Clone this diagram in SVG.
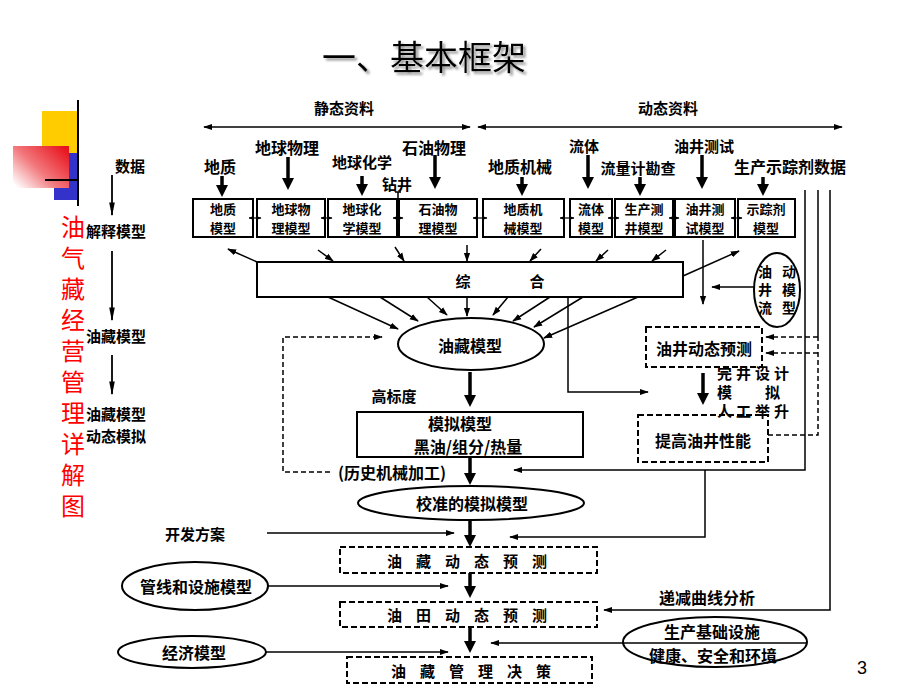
<svg xmlns="http://www.w3.org/2000/svg" width="920" height="690" viewBox="0 0 920 690">
<defs>
<linearGradient id="rg" x1="1" y1="0.1" x2="0" y2="0.9">
<stop offset="0" stop-color="#e8101a"/>
<stop offset="0.55" stop-color="#f2787c"/>
<stop offset="1" stop-color="#ffffff"/>
</linearGradient>
<filter id="sh" x="-10%" y="-20%" width="130%" height="150%"><feDropShadow dx="2.5" dy="2.5" stdDeviation="0.8" flood-color="#999"/></filter>
<marker id="big" viewBox="0 0 10 10" refX="6.7" refY="5" markerWidth="12" markerHeight="12" markerUnits="userSpaceOnUse" orient="auto"><path d="M0,0 L10,5 L0,10 z" fill="#000"/></marker>
<marker id="a" viewBox="0 0 10 10" refX="9" refY="5" markerWidth="9" markerHeight="9" markerUnits="userSpaceOnUse" orient="auto-start-reverse"><path d="M0,1.5 L10,5 L0,8.5 z" fill="#000"/></marker>
<marker id="sm" viewBox="0 0 10 10" refX="9" refY="5" markerWidth="5" markerHeight="5" markerUnits="userSpaceOnUse" orient="auto-start-reverse"><path d="M0,1 L10,5 L0,9 z" fill="#000"/></marker>
<marker id="n" viewBox="0 0 10 10" refX="9" refY="5" markerWidth="14" markerHeight="7" markerUnits="userSpaceOnUse" orient="auto" preserveAspectRatio="none"><path d="M0,1 L10,5 L0,9 z" fill="#000"/></marker>
<style>
.t{font-family:'Noto Sans CJK SC','Noto Sans CJK JP',sans-serif;text-anchor:middle;dominant-baseline:central;font-weight:bold;fill:#000;font-size:15px}
.s13{font-size:13px}
.s14{font-size:14px}
.s16{font-size:16px}
.st{text-anchor:start}
.vt{writing-mode:vertical-rl;text-anchor:start}
.ln{fill:none;stroke:#000;stroke-width:1.5}
.lna{fill:none;stroke:#000;stroke-width:1.5;marker-end:url(#a)}
.dl{fill:none;stroke:#000;stroke-width:1.5;stroke-dasharray:5 3}
.dla{fill:none;stroke:#000;stroke-width:1.5;stroke-dasharray:5 3;marker-end:url(#a)}
.ta{fill:none;stroke:#000;stroke-width:3.5;marker-end:url(#big)}
.na{fill:none;stroke:#000;stroke-width:1.8;marker-end:url(#n)}
.lk{fill:none;stroke:#000;stroke-width:1.2;marker-start:url(#sm);marker-end:url(#sm)}
.box{fill:#fff;stroke:#000;stroke-width:2}
.dbox{fill:#fff;stroke:#000;stroke-width:2;stroke-dasharray:6 3}
.el{fill:#fff;stroke:#000;stroke-width:2}
</style>
</defs>
<rect width="920" height="690" fill="#fff"/>

<g id="title">
<text x="424" y="55" font-family="'Noto Sans CJK SC',sans-serif" font-size="34" text-anchor="middle" dominant-baseline="central" fill="#000" filter="url(#sh)">一、基本框架</text>
</g>

<g id="decor">
<rect x="42" y="111" width="36" height="42" fill="#ffcc00"/>
<rect x="54" y="153" width="24" height="47" fill="#3333cc"/>
<rect x="13" y="146" width="56" height="42" fill="url(#rg)"/>
<line x1="78" y1="100" x2="78" y2="206" stroke="#000" stroke-width="2"/>
<line x1="45" y1="180" x2="78" y2="180" stroke="#000" stroke-width="2"/>
</g>

<g id="side-title">
<text x="73" y="215" font-family="'Noto Sans CJK SC',sans-serif" font-size="24" fill="#ff0000" writing-mode="vertical-rl" letter-spacing="7">油气藏经营管理详解图</text>
</g>

<g id="left-col">
<text class="t" x="130" y="165">数据</text>
<text class="t st" x="86" y="230">解释模型</text>
<text class="t st" x="86" y="335">油藏模型</text>
<text class="t st" x="86" y="413">油藏模型</text>
<text class="t st" x="86" y="435">动态模拟</text>
</g>

<g id="headers">
<text class="t" x="344" y="107">静态资料</text>
<text class="t" x="668" y="107">动态资料</text>
</g>

<g id="data-labels">
<text class="t s16" x="220" y="166">地质</text>
<text class="t s16" x="287" y="147">地球物理</text>
<text class="t" x="362" y="161">地球化学</text>
<text class="t" x="397" y="183">钻井</text>
<text class="t s16" x="434" y="147">石油物理</text>
<text class="t s16" x="520" y="166">地质机械</text>
<text class="t" x="584" y="145">流体</text>
<text class="t" x="638" y="167">流量计勘查</text>
<text class="t" x="704" y="145">油井测试</text>
<text class="t s16" x="790" y="166">生产示踪剂数据</text>
</g>

<g id="m-dizhi"><rect class="box" x="193" y="199" width="60" height="38"/><text class="t s13" x="223" y="208.5">地质</text><text class="t s13" x="223" y="227.5">模型</text></g>
<g id="m-diqiuwuli"><rect class="box" x="257" y="199" width="68" height="38"/><text class="t s13" x="291" y="208.5">地球物</text><text class="t s13" x="291" y="227.5">理模型</text></g>
<g id="m-diqiuhuaxue"><rect class="box" x="328" y="199" width="69" height="38"/><text class="t s13" x="362" y="208.5">地球化</text><text class="t s13" x="362" y="227.5">学模型</text></g>
<g id="m-shiyouwuli"><rect class="box" x="399" y="199" width="78" height="38"/><text class="t s13" x="438" y="208.5">石油物</text><text class="t s13" x="438" y="227.5">理模型</text></g>
<g id="m-dizhijixie"><rect class="box" x="483" y="199" width="81" height="38"/><text class="t s13" x="523" y="208.5">地质机</text><text class="t s13" x="523" y="227.5">械模型</text></g>
<g id="m-liuti"><rect class="box" x="570" y="199" width="42" height="38"/><text class="t s13" x="591" y="208.5">流体</text><text class="t s13" x="591" y="227.5">模型</text></g>
<g id="m-shengchan"><rect class="box" x="615" y="199" width="58" height="38"/><text class="t s13" x="644" y="208.5">生产测</text><text class="t s13" x="644" y="227.5">井模型</text></g>
<g id="m-youjing"><rect class="box" x="675" y="199" width="60" height="38"/><text class="t s13" x="705" y="208.5">油井测</text><text class="t s13" x="705" y="227.5">试模型</text></g>
<g id="m-shizong"><rect class="box" x="738" y="199" width="57" height="38"/><text class="t s13" x="766" y="208.5">示踪剂</text><text class="t s13" x="766" y="227.5">模型</text></g>

<g id="zonghe"><rect class="box" x="257" y="262" width="426" height="35"/><text class="t" x="463" y="280">综</text><text class="t" x="537" y="280">合</text></g>

<g id="youjingliudong">
<ellipse class="el" cx="777" cy="290" rx="23" ry="37" stroke-width="1.5"/>
<text class="t s14 vt" x="765" y="265" letter-spacing="4">油井流</text>
<text class="t s14 vt" x="789" y="265" letter-spacing="4">动模型</text>
</g>

<g id="youzangmoxing"><ellipse class="el" cx="471" cy="344" rx="73" ry="26"/><text class="t s16" x="470" y="345">油藏模型</text></g>

<g id="youjingdongtai"><rect class="dbox" x="646" y="327" width="116" height="40"/><text class="t s16" x="704" y="348">油井动态预测</text></g>

<g id="tigao"><rect class="dbox" x="638" y="415" width="130" height="47"/><text class="t s16" x="703" y="440">提高油井性能</text></g>

<g id="wanjing">
<text class="t st" font-size="12" letter-spacing="4" x="717" y="372">完井设计</text>
<text class="t st" font-size="12" x="717" y="391">模</text>
<text class="t st" font-size="12" x="765" y="391">拟</text>
<text class="t st" font-size="12" letter-spacing="4" x="717" y="410">人工举升</text>
</g>

<g id="gaobiaodu"><text class="t" x="394" y="395">高标度</text></g>

<g id="moni"><rect class="box" x="357" y="412" width="226" height="45"/><text class="t s16" x="460" y="423">模拟模型</text><text class="t s16" x="468" y="446">黑油/组分/热量</text></g>

<g id="lishi"><text class="t s16" x="392" y="472">(历史机械加工)</text></g>

<g id="jiaozhun"><ellipse class="el" cx="471" cy="503" rx="113" ry="17"/><text class="t s16" x="472" y="503">校准的模拟模型</text></g>

<g id="kaifa"><text class="t" x="195" y="533">开发方案</text></g>

<g id="yzdt"><rect class="dbox" x="340" y="547" width="257" height="26"/><text class="t" x="474" y="560" letter-spacing="14">油藏动态预测</text></g>

<g id="guanxian"><ellipse class="el" cx="195" cy="586" rx="73" ry="24"/><text class="t s16" x="196" y="586">管线和设施模型</text></g>

<g id="ytdt"><rect class="dbox" x="340" y="602" width="257" height="25"/><text class="t" x="474" y="614" letter-spacing="14">油田动态预测</text></g>

<g id="jingji"><ellipse class="el" cx="192" cy="652" rx="74" ry="16"/><text class="t s16" x="194" y="652">经济模型</text></g>

<g id="yzgl"><rect class="dbox" x="347" y="657" width="245" height="26"/><text class="t" x="478" y="670" letter-spacing="14">油藏管理决策</text></g>

<g id="dijian"><text class="t s16" x="707" y="597">递减曲线分析</text></g>

<g id="shengchanjichu"><ellipse class="el" cx="715" cy="642" rx="92" ry="25"/><text class="t s16" x="712" y="631">生产基础设施</text><text class="t s16" x="713" y="655">健康、安全和环境</text></g>

<g id="page"><text x="862" y="668" font-family="'Liberation Sans',sans-serif" font-size="18" text-anchor="middle" dominant-baseline="central">3</text></g>

<g id="connectors">
<line class="ln" x1="204" y1="127" x2="470" y2="127" marker-start="url(#a)" marker-end="url(#a)"/>
<line class="ln" x1="478" y1="127" x2="842" y2="127" marker-start="url(#a)" marker-end="url(#a)"/>
<line class="na" x1="112" y1="175" x2="112" y2="215"/>
<line class="na" x1="112" y1="251" x2="112" y2="320"/>
<line class="na" x1="112" y1="355" x2="112" y2="394"/>
<line class="ta" x1="222" y1="176" x2="222" y2="193"/>
<line class="ta" x1="288" y1="157" x2="288" y2="186"/>
<line class="ta" x1="362" y1="176" x2="362" y2="192"/>
<line class="ta" x1="435" y1="155" x2="435" y2="185"/>
<line class="ta" x1="522" y1="177" x2="522" y2="192"/>
<line class="ta" x1="588" y1="155" x2="588" y2="185"/>
<line class="ta" x1="640" y1="177" x2="640" y2="192"/>
<line class="ta" x1="702" y1="155" x2="702" y2="185"/>
<line class="ta" x1="763" y1="177" x2="763" y2="192"/>
<path class="ln" d="M395,192 H401 M398,192 V199"/>
<line class="lk" x1="249" y1="218" x2="261" y2="218"/>
<line class="lk" x1="321" y1="218" x2="332" y2="218"/>
<line class="lk" x1="393" y1="218" x2="403" y2="218"/>
<line class="lk" x1="473" y1="218" x2="487" y2="218"/>
<line class="lk" x1="560" y1="218" x2="574" y2="218"/>
<line class="lk" x1="608" y1="218" x2="619" y2="218"/>
<line class="lk" x1="669" y1="218" x2="679" y2="218"/>
<line class="lk" x1="731" y1="218" x2="742" y2="218"/>
<line class="lna" x1="257" y1="262" x2="228" y2="249"/>
<line class="lna" x1="318" y1="250" x2="333" y2="261"/>
<line class="lna" x1="395" y1="247" x2="404" y2="261"/>
<line class="lna" x1="467" y1="245" x2="467" y2="261"/>
<line class="lna" x1="541" y1="249" x2="530" y2="261"/>
<line class="lna" x1="608" y1="250" x2="596" y2="261"/>
<line class="lna" x1="666" y1="250" x2="652" y2="261"/>
<line class="lna" x1="683" y1="276" x2="739" y2="251"/>
<line class="lna" x1="703" y1="240" x2="703" y2="304"/>
<line class="lna" x1="754" y1="287" x2="712" y2="287"/>
<line class="lna" x1="328" y1="297" x2="398" y2="329"/>
<line class="lna" x1="380" y1="297" x2="418" y2="321"/>
<line class="lna" x1="427" y1="297" x2="447" y2="315"/>
<line class="lna" x1="467" y1="297" x2="467" y2="316"/>
<line class="lna" x1="508" y1="297" x2="493" y2="315"/>
<line class="lna" x1="550" y1="297" x2="513" y2="321"/>
<line class="lna" x1="583" y1="297" x2="534" y2="327"/>
<line class="lna" x1="638" y1="297" x2="544" y2="338"/>
<polyline class="lna" stroke-width="2" points="568,297 568,392 648,392"/>
<polyline class="dla" points="330,472 283,472 283,337 382,337"/>
<line class="ta" x1="470" y1="372" x2="470" y2="403"/>
<line class="ta" x1="470" y1="457" x2="470" y2="481"/>
<line class="ta" x1="470" y1="520" x2="470" y2="543"/>
<line class="ta" x1="470" y1="573" x2="470" y2="594"/>
<line class="ta" x1="470" y1="627" x2="470" y2="649"/>
<line class="ta" x1="703" y1="373" x2="703" y2="401"/>
<line class="lna" x1="267" y1="533" x2="454" y2="533"/>
<line class="lna" x1="268" y1="586" x2="448" y2="586"/>
<line class="lna" x1="266" y1="652" x2="448" y2="652"/>
<line class="lna" x1="623" y1="643" x2="491" y2="643"/>
<line class="ln" x1="623" y1="643" x2="807" y2="643"/>
<polyline class="lna" points="805,190 805,470 514,470"/>
<polyline class="lna" points="705,470 705,537 510,537"/>
<polyline class="lna" stroke-width="2.5" points="830,190 830,610 604,610"/>
<line class="ln" stroke-width="1" x1="818" y1="190" x2="818" y2="337"/>
<polyline class="dl" points="768,435 818,435 818,337"/>
<line class="dla" x1="818" y1="337" x2="766" y2="337"/>
<line class="dla" x1="818" y1="353" x2="766" y2="353"/>
</g>
</svg>
